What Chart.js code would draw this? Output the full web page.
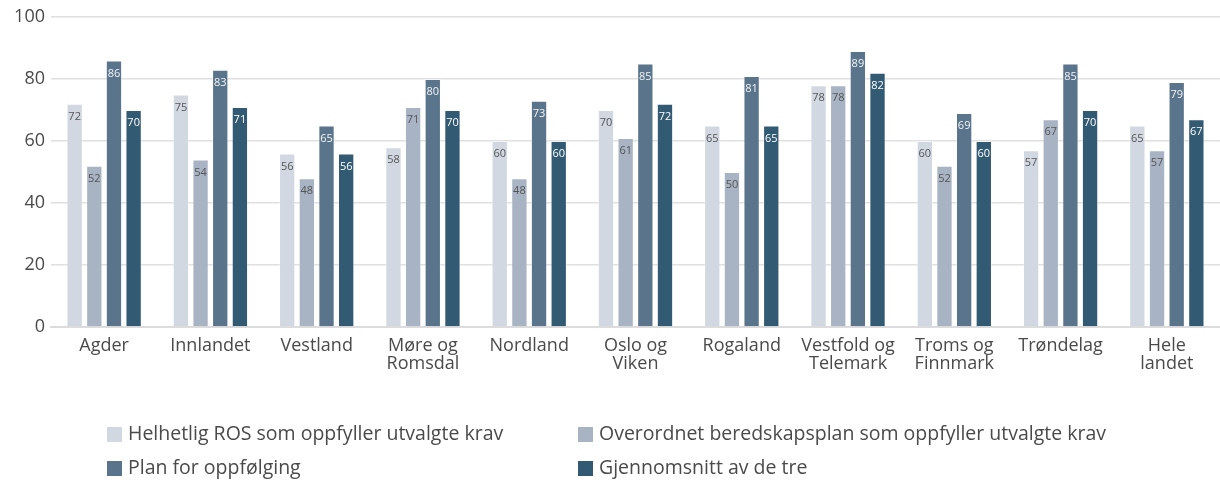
<!DOCTYPE html>
<html>
<head>
<meta charset="utf-8">
<script src="https://cdn.jsdelivr.net/npm/chart.js@4"></script>
<style>
  html, body { margin: 0; padding: 0; background: #fff; }
  #wrap { width: 1220px; height: 480px; }
</style>
</head>
<body>
<div id="wrap"><canvas id="chart"></canvas></div>
<script>
const categories = ['Agder', 'Innlandet', 'Vestland', ['Møre og', 'Romsdal'], 'Nordland', ['Oslo og', 'Viken'],
    'Rogaland', ['Vestfold og', 'Telemark'], ['Troms og', 'Finnmark'], 'Trøndelag', ['Hele', 'landet']];
const seriesNames = ['Helhetlig ROS som oppfyller utvalgte krav', 'Overordnet beredskapsplan som oppfyller utvalgte krav',
    'Plan for oppfølging', 'Gjennomsnitt av de tre'];
const rosValues = [72, 75, 56, 58, 60, 70, 65, 78, 60, 57, 65];
const beredskapValues = [52, 54, 48, 71, 48, 61, 50, 78, 52, 67, 57];
const oppfolgingValues = [86, 83, 65, 80, 73, 85, 81, 89, 69, 85, 79];
const snittValues = [70, 71, 56, 70, 60, 72, 65, 82, 60, 70, 67];
const yTicks = [0, 20, 40, 60, 80, 100];

const colors = ['#d1d8e2', '#a8b4c4', '#5a758b', '#335a73'];
const labelColors = ['#555', '#555', '#f2f4f6', '#ffffff'];
const FONT = '"Open Sans", sans-serif';

// value labels just inside the top of each bar
const barLabels = {
    id: 'barLabels',
    afterDatasetsDraw(chart) {
        const ctx = chart.ctx;
        ctx.save();
        ctx.font = '11px ' + FONT;
        ctx.textAlign = 'center';
        ctx.textBaseline = 'middle';
        chart.data.datasets.forEach((ds, i) => {
            chart.getDatasetMeta(i).data.forEach((bar, j) => {
                ctx.fillStyle = labelColors[i];
                ctx.fillText(ds.data[j], bar.x, bar.y + 13);
            });
        });
        ctx.restore();
    }
};

// two-column legend under the chart
const gridLegend = {
    id: 'gridLegend',
    afterDraw(chart) {
        const ctx = chart.ctx;
        const cols = [107, 578];
        const rows = [434, 468];
        ctx.save();
        ctx.font = '19.5px ' + FONT;
        ctx.textBaseline = 'middle';
        ctx.textAlign = 'left';
        chart.data.datasets.forEach((ds, i) => {
            const x = cols[i % 2];
            const y = rows[Math.floor(i / 2)];
            ctx.fillStyle = ds.backgroundColor;
            ctx.fillRect(x, y - 7, 15, 15);
            ctx.fillStyle = '#4a4a4a';
            ctx.fillText(ds.label, x + 21, y);
        });
        ctx.restore();
    }
};

const allValues = [rosValues, beredskapValues, oppfolgingValues, snittValues];

new Chart(document.getElementById('chart'), {
    type: 'bar',
    data: {
        labels: categories,
        datasets: allValues.map((vals, i) => ({
            label: seriesNames[i],
            data: vals,
            backgroundColor: colors[i],
            borderColor: 'rgba(255,255,255,0.35)',
            borderWidth: 1,
            barPercentage: 0.83,
            categoryPercentage: 0.74
        }))
    },
    options: {
        responsive: true,
        maintainAspectRatio: false,
        animation: false,
        layout: { padding: { top: 17, right: 0, left: 0, bottom: 0 } },
        plugins: {
            legend: { display: false },
            tooltip: { enabled: false }
        },
        scales: {
            x: {
                grid: { display: false, drawTicks: false },
                border: { color: '#dcdcdc', width: 2 },
                ticks: {
                    color: '#4a4a4a',
                    font: { family: FONT, size: 18, lineHeight: 1.0 },
                    padding: 10,
                    maxRotation: 0,
                    autoSkip: false
                },
                afterFit(scale) { scale.height = 153; }
            },
            y: {
                min: 0,
                max: 100,
                afterBuildTicks(scale) { scale.ticks = yTicks.map(v => ({ value: v })); },
                grid: { color: '#e0e0e0', lineWidth: 1.5, drawTicks: false },
                border: { display: false },
                ticks: {
                    color: '#4a4a4a',
                    font: { family: FONT, size: 18 },
                    padding: 6
                },
                afterFit(scale) { scale.width = 51; }
            }
        }
    },
    plugins: [barLabels, gridLegend]
});
</script>
</body>
</html>
